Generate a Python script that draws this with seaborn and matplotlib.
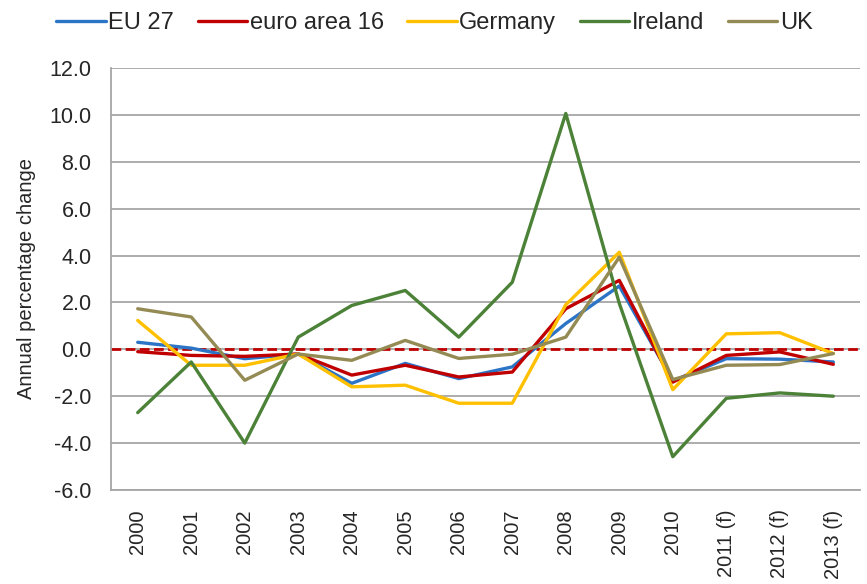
import numpy as np
import pandas as pd
import seaborn as sns
import matplotlib.pyplot as plt

# categories and series values (annual percentage change)
years = ['2000', '2001', '2002', '2003', '2004', '2005', '2006', '2007',
         '2008', '2009', '2010', '2011 (f)', '2012 (f)', '2013 (f)']
eu27 = [0.3, 0.05, -0.4, -0.2, -1.45, -0.6, -1.25, -0.75, 1.1, 2.7, -1.35, -0.4, -0.42, -0.54]
euro16 = [-0.1, -0.26, -0.3, -0.2, -1.1, -0.68, -1.18, -0.97, 1.73, 2.94, -1.4, -0.26, -0.11, -0.64]
germany = [1.23, -0.68, -0.68, -0.2, -1.6, -1.53, -2.3, -2.3, 1.9, 4.14, -1.72, 0.66, 0.71, -0.18]
ireland = [-2.7, -0.54, -4.0, 0.52, 1.87, 2.51, 0.52, 2.86, 10.06, 1.96, -4.58, -2.09, -1.86, -2.0]
uk = [1.73, 1.38, -1.32, -0.2, -0.47, 0.38, -0.39, -0.21, 0.52, 3.93, -1.29, -0.68, -0.65, -0.18]

series = ['EU 27', 'euro area 16', 'Germany', 'Ireland', 'UK']
colors = ['#2C74C6', '#C00000', '#FFC000', '#4C8238', '#948A54']

df = pd.DataFrame({
    'year': years * 5,
    'value': eu27 + euro16 + germany + ireland + uk,
    'series': np.repeat(series, len(years)),
})

sns.set_theme(style='white')
plt.rcParams['font.family'] = ['Liberation Sans', 'DejaVu Sans']
plt.rcParams['axes.unicode_minus'] = False

fig = plt.figure(figsize=(8.67, 5.84), dpi=100)
ax = fig.add_axes([0.128, 0.161, 0.864, 0.7226])

# zero reference line
ax.axhline(0, color='#C00000', lw=2, ls=(0, (3.5, 1.6)), zorder=1.9)

sns.lineplot(data=df, x='year', y='value', hue='series', hue_order=series,
             palette=colors, linewidth=2.4, sort=False, ax=ax)

handles, labels = ax.get_legend_handles_labels()
ax.get_legend().remove()
fig.legend(handles, labels, loc='center', bbox_to_anchor=(0.501, 0.961),
           ncol=5, frameon=False, fontsize=17, handlelength=2.1,
           handletextpad=0.1, columnspacing=1.0, borderpad=0)

ax.set_xlim(-0.5, len(years) - 0.5)
ax.set_ylim(-6, 12)
ax.set_yticks(np.arange(-6, 12.1, 2))
ax.set_yticklabels([f'{v:.1f}' for v in np.arange(-6, 12.1, 2)], fontsize=15.5)
ax.set_xticks(range(len(years)))
ax.set_xticklabels(years, rotation=90, fontsize=14.5)
ax.set_xlabel('')
ax.set_ylabel('Annual percentage change', fontsize=14.5, labelpad=10)

ax.grid(axis='y', color='#A6A6A6', lw=1.3)
ax.grid(axis='x', visible=False)
for s in ['top', 'right']:
    ax.spines[s].set_visible(False)
for s in ['left', 'bottom']:
    ax.spines[s].set_color('#A6A6A6')
    ax.spines[s].set_linewidth(1.3)
ax.tick_params(axis='y', length=6, color='#A6A6A6', width=1.3, pad=8)
ax.tick_params(axis='x', length=0, pad=14)

fig.savefig('out.png', dpi=100)
